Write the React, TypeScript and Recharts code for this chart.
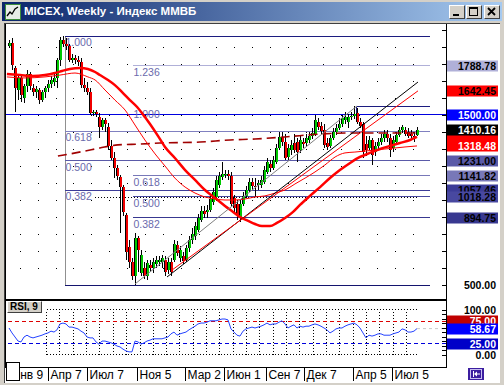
import React from "react";
import { ComposedChart, Bar, Line, Scatter, XAxis, YAxis, ReferenceLine } from "recharts";

// ---------------- data ----------------
const opens = [
  1906, 1924, 1777, 1647, 1718, 1600, 1671, 1741, 1659, 1635,
  1647, 1588, 1635, 1659, 1682, 1694, 1718, 1824, 1941, 1918,
  1906, 1824, 1835, 1824, 1812, 1676, 1659, 1635, 1512, 1518,
  1490, 1429, 1471, 1430, 1318, 1247, 1188, 1135, 1076, 912,
  724, 635, 553, 777, 571, 600, 553, 618, 600, 624,
  635, 635, 647, 588, 635, 647, 735, 659, 671, 647,
  718, 765, 788, 824, 882, 935, 930, 941, 988, 1018,
  1088, 1135, 1147, 1153, 1141, 1012, 977, 894, 977, 1024,
  1059, 1106, 1082, 1088, 1088, 1106, 1165, 1212, 1188, 1224,
  1306, 1371, 1341, 1253, 1294, 1335, 1341, 1294, 1341, 1335,
  1353, 1376, 1388, 1459, 1435, 1412, 1335, 1318, 1365, 1400,
  1424, 1447, 1471, 1460, 1488, 1494, 1512, 1459, 1447, 1330,
  1306, 1353, 1282, 1318, 1341, 1365, 1388, 1365, 1306, 1341,
  1382, 1412, 1412, 1400, 1388, 1376, 1382,
];
const highs = [
  1941, 1953, 1788, 1741, 1735, 1682, 1765, 1753, 1682, 1671,
  1659, 1647, 1671, 1706, 1729, 1741, 1835, 1959, 1965, 1953,
  1918, 1859, 1853, 1847, 1835, 1718, 1694, 1659, 1529, 1529,
  1510, 1482, 1482, 1450, 1353, 1282, 1206, 1147, 1088, 924,
  765, 659, 806, 788, 706, 635, 647, 647, 659, 671,
  671, 677, 671, 659, 659, 765, 759, 730, 694, 735,
  788, 835, 871, 918, 965, 965, 971, 1030, 1071, 1141,
  1165, 1224, 1176, 1176, 1165, 1030, 1000, 1000, 1047, 1082,
  1129, 1129, 1129, 1118, 1141, 1200, 1247, 1235, 1259, 1329,
  1400, 1400, 1388, 1329, 1353, 1388, 1365, 1376, 1365, 1388,
  1400, 1424, 1500, 1482, 1459, 1447, 1365, 1382, 1424, 1447,
  1482, 1500, 1518, 1506, 1518, 1553, 1541, 1482, 1459, 1376,
  1376, 1365, 1341, 1365, 1388, 1412, 1412, 1388, 1376, 1400,
  1429, 1441, 1429, 1424, 1412, 1400, 1429,
];
const lows = [
  1894, 1765, 1518, 1588, 1577, 1571, 1635, 1647, 1612, 1600,
  1565, 1577, 1600, 1635, 1659, 1671, 1659, 1788, 1900, 1882,
  1812, 1806, 1800, 1788, 1659, 1635, 1618, 1500, 1494, 1488,
  1365, 1412, 1400, 1294, 1235, 1129, 1118, 806, 906, 647,
  600, 529, 500, 577, 553, 535, 529, 577, 571, 600,
  612, 600, 553, 565, 553, 635, 671, 635, 624, 635,
  694, 741, 765, 812, 871, 894, 894, 930, 971, 1006,
  1071, 1118, 1129, 1118, 965, 930, 882, 871, 965, 1012,
  1047, 1059, 1018, 1059, 1071, 1094, 1153, 1165, 1176, 1212,
  1294, 1318, 1235, 1235, 1265, 1277, 1224, 1277, 1306, 1318,
  1335, 1359, 1376, 1412, 1388, 1306, 1294, 1306, 1353, 1382,
  1412, 1429, 1447, 1424, 1471, 1477, 1447, 1424, 1247, 1259,
  1294, 1206, 1259, 1294, 1324, 1341, 1341, 1253, 1282, 1324,
  1371, 1394, 1376, 1365, 1359, 1341, 1376,
];
const closes = [
  1924, 1794, 1659, 1718, 1618, 1671, 1741, 1671, 1635, 1653,
  1588, 1635, 1659, 1682, 1706, 1718, 1824, 1941, 1918, 1906,
  1824, 1835, 1824, 1812, 1676, 1659, 1635, 1512, 1518, 1506,
  1429, 1471, 1447, 1318, 1247, 1188, 1141, 1076, 930, 694,
  635, 553, 777, 706, 677, 553, 630, 600, 635, 647,
  647, 659, 577, 635, 577, 741, 688, 706, 641, 718,
  765, 800, 847, 894, 935, 918, 941, 1006, 1047, 1118,
  1141, 1153, 1153, 1141, 977, 953, 912, 977, 1024, 1059,
  1106, 1082, 1076, 1100, 1118, 1176, 1224, 1188, 1235, 1306,
  1371, 1341, 1247, 1306, 1324, 1294, 1282, 1353, 1329, 1365,
  1376, 1394, 1471, 1429, 1406, 1324, 1312, 1365, 1400, 1424,
  1447, 1482, 1488, 1488, 1494, 1506, 1459, 1435, 1282, 1294,
  1353, 1265, 1318, 1341, 1365, 1388, 1365, 1294, 1353, 1382,
  1412, 1429, 1388, 1376, 1376, 1371, 1410.16,
];
const rsiValues = [
  60, 49, 40, 31, 29, 40, 44, 40, 38, 40,
  42, 44, 47, 49, 53, 51, 56, 69, 71, 69,
  62, 62, 60, 58, 53, 49, 40, 38, 38, 29,
  24, 31, 31, 29, 27, 24, 20, 18, 13, 9,
  7, 7, 31, 29, 24, 27, 31, 33, 36, 36,
  36, 36, 38, 40, 47, 51, 44, 47, 49, 51,
  56, 60, 64, 69, 71, 71, 73, 76, 76, 76,
  78, 80, 80, 78, 58, 51, 44, 42, 53, 58,
  60, 62, 60, 62, 64, 67, 71, 67, 69, 69,
  73, 76, 69, 60, 64, 67, 60, 64, 62, 64,
  64, 67, 69, 67, 64, 60, 56, 49, 53, 58,
  60, 60, 64, 67, 69, 71, 67, 60, 49, 38,
  44, 42, 44, 47, 47, 44, 44, 44, 47, 49,
  51, 58, 56, 51, 51, 53, 58.67,
];

// moving averages (bar index, value)
const thickMaIdx = [-0.7, 3.7, 8, 12, 15.3, 17.7, 20.3, 23.7, 26.3, 28.7, 30.3, 33, 35.3, 37.7, 40.3, 42.7, 44.3, 47, 49.7, 52, 55.3, 58.7, 62, 65.3, 68.7, 72, 74.7, 77, 79.7, 82, 84.3, 87, 89.3, 92, 94.7, 97, 100.3, 103.7, 107, 110.3, 113.7, 117, 120.3, 123.7, 127, 130.3, 133.7, 136];
const thickMaVal = [1741, 1735, 1729, 1735, 1747, 1759, 1771, 1777, 1771, 1753, 1735, 1706, 1676, 1635, 1588, 1547, 1512, 1447, 1376, 1312, 1247, 1176, 1118, 1059, 1012, 965, 930, 900, 877, 859, 847, 847, 865, 894, 930, 971, 1024, 1076, 1129, 1176, 1218, 1253, 1277, 1300, 1318, 1335, 1353, 1371];
const thinMaIdx = [-0.7, 5.3, 12, 17, 22, 26.3, 28.7, 32, 35.3, 38.7, 42, 45.3, 48.7, 52, 55.3, 58.7, 62, 65.3, 68.7, 72, 75.3, 78.7, 82, 85.3, 88.7, 92, 95.3, 98.7, 102, 105.3, 108.7, 112, 115.3, 118.7, 122, 125.3, 128.7, 132, 136];
const thinMaVal = [1724, 1718, 1724, 1735, 1747, 1724, 1706, 1647, 1588, 1529, 1441, 1353, 1271, 1200, 1129, 1076, 1041, 1018, 1006, 1000, 1000, 1006, 1018, 1024, 1041, 1059, 1094, 1129, 1165, 1206, 1253, 1277, 1282, 1288, 1294, 1300, 1306, 1312, 1318];
const longMaIdx = [16.3, 20.3, 25.3, 30.3, 36.3, 43.7, 50.3, 63.7, 73.7, 82, 92, 103.7, 113.7, 125.3, 136];
const longMaVal = [1259, 1271, 1288, 1306, 1324, 1329, 1335, 1341, 1353, 1359, 1371, 1388, 1394, 1394, 1394];

// Fibonacci objects
const fib1Range = [18.67, 140.33];
const fib1Levels = [1962, 1403.5, 1231, 1057.5, 500];
const fib1Names = ["1.000", "0.618", "0.500", "0.382", ""];
const fib1Colors = ["#1c1c80", "#8080c0", "#5a5aa8", "#3c3c98", "#14146e"];
const fib2Range = [41.33, 140.33];
const fib2Levels = [1788.78, 1541.7, 1141.82, 1018.28, 894.75, 494.8];
const fib2Names = ["1.236", "1.000", "0.618", "0.500", "0.382", ""];
const fib2Colors = ["#b0b0d8", "", "#7878b8", "#4848a0", "#383890", "#14146e"];

// trend lines [index, price]
const trendStart = [[42, 506], [52.67, 547], [54.33, 588]];
const trendEnd = [[116, 1553], [136.33, 1694], [136.33, 1642]];
const trendColors = ["#808080", "#000000", "#ff0000"];
const boxLevel = 1548;
const boxRange = [116, 140.33];
const dottedLevel = 1012;
const dottedRange = [28.7, 136.3];
const blueLevel = 1500;

// grid / ticks
const priceTicks = [500, 600, 700, 800, 900, 1000, 1100, 1200, 1300, 1400, 1500, 1600, 1700, 1800, 1900, 2000];
const gridPrices = [600, 700, 800, 900, 1000, 1100, 1200, 1300, 1400, 1500, 1600, 1700, 1800, 1900];
const gridIdx = [3.7, 9.6, 15.6, 21.5, 27.5, 33.4, 39.4, 45.3, 51.3, 57.2, 63.2, 69.1, 75.1, 81.0, 87.0, 92.9, 98.9, 104.8, 110.8, 116.7, 122.7, 128.6, 134.6];
// axis boxes; an empty text means the box is almost entirely hidden in the picture
const priceLabelValues = [1788.78, 1642.45, 1500, 1362.38, 1410.16, 1318.48, 1231, 1141.82, 1057.46, 1012.05, 1018.28, 894.75, 500];
const priceLabelShow = [true, true, true, false, true, true, true, true, true, false, true, true, true];
const priceLabelBg = ["#b0b0d8", "#ff0000", "#0000ff", "#ff0000", "#000000", "#ff0000", "#5a5aa8", "#7878b8", "#3c3c98", "#ffffff", "#4848a0", "#383890", "none"];
const priceLabelFg = ["#000", "#000", "#fff", "#fff", "#fff", "#fff", "#000", "#000", "#000", "#000", "#000", "#000", "#000"];

const rsiTicks = [0, 10, 20, 30, 40, 50, 60, 70, 80, 90, 100];
const rsiGridIdx = [12.6, 17.0, 21.4, 25.9, 30.3, 34.8, 39.2, 43.7, 48.1, 52.5, 57.0, 61.4, 65.9, 70.3, 74.8, 79.2, 83.6, 88.1, 92.5, 97.0, 101.4, 105.9, 110.3, 114.7, 119.2, 123.6, 128.1, 132.5];
const rsiGridRange = [12.6, 136];
const rsiLabelValues = [100, 75, 58.67, 25, 0];
const rsiLabelShow = [true, true, true, true, true];
const rsiLabelBg = ["none", "#c00000", "#0000ff", "#0000c8", "none"];
const rsiLabelFg = ["#000", "#fff", "#fff", "#fff", "#000"];

const timeLabels = ["Янв 9", "Апр 7", "Июл 7", "Ноя 5", "Мар 2", "Июн 1", "Сен 7", "Дек 7", "Апр 5", "Июл 5"];
const timeTickIdx = [-0.1, 12.9, 25.9, 42.7, 58.7, 71.7, 85.7, 98.3, 114.7, 127.7];

// ---------------- styling ----------------
const X_DOMAIN: [number, number] = [-1, 145.667];
const Y_DOMAIN: [number, number] = [417.65, 2035.29];
const RSI_DOMAIN: [number, number] = [-26.67, 120];
const GREEN = "#00c800";
const RED = "#f00000";
const FONT = "'Liberation Sans', Arial, sans-serif";

const Candle = (props: any) => {
  const { x, y, width, height, payload } = props;
  if (!payload || height == null || isNaN(y)) return <g />;
  const { o, h, l, c } = payload;
  const cx = Math.round(x + width / 2);
  const k = h - l > 0 ? height / (h - l) : 0;
  const yO = y + (h - o) * k;
  const yC = y + (h - c) * k;
  const top = Math.round(Math.min(yO, yC));
  const bot = Math.round(Math.max(yO, yC));
  const yH = Math.round(y);
  const yL = Math.round(y + height);
  const up = c >= o;
  return (
    <g shapeRendering="crispEdges">
      <line x1={cx + 0.5} x2={cx + 0.5} y1={yH} y2={yL} stroke="#000" strokeWidth={1} />
      {bot - top >= 1 ? (
        <g>
          <rect x={cx - 1} y={top} width={3} height={bot - top} fill={up ? GREEN : RED} />
          <rect x={cx - 1} y={top} width={1} height={bot - top} fill="#000" />
        </g>
      ) : (
        <rect x={cx - 1} y={top} width={3} height={1} fill="#000" />
      )}
    </g>
  );
};

const Dot = (p: any) => <rect x={Math.round(p.cx)} y={Math.round(p.cy)} width={1} height={1} fill="#000" />;

const FibLabel = (p: any) => (
  <text x={p.cx + 0.5} y={p.cy + 10} fontSize={10.5} fontFamily={FONT} fill="#6a6aac">
    {p.payload.t}
  </text>
);

const TickMark = (p: any) => {
  const yy = Math.round(p.y) + 0.5;
  return <line x1={p.x - 4} x2={p.x} y1={yy} y2={yy} stroke="#000" strokeWidth={1} />;
};

const makeBox = (values: number[], show: boolean[], bgs: string[], fgs: string[]) => (p: any) => {
  const k = values.indexOf(p.payload.value);
  const bg = bgs[k];
  const fg = fgs[k];
  const yy = Math.round(p.y);
  return (
    <g>
      {bg !== "none" && <rect x={p.x} y={yy - 5.5} width={51} height={11} fill={bg} />}
      {show[k] && (
        <text x={p.x + 49} y={yy + 4} textAnchor="end" fontSize={10.5} fontWeight="bold" fontFamily={FONT} fill={fg}>
          {values[k].toFixed(2)}
        </text>
      )}
    </g>
  );
};
const PriceBox = makeBox(priceLabelValues, priceLabelShow, priceLabelBg, priceLabelFg);
const RsiBox = makeBox(rsiLabelValues, rsiLabelShow, rsiLabelBg, rsiLabelFg);

const TimeTick = (p: any) => {
  const k = timeTickIdx.indexOf(p.payload.value);
  const px = Math.round(p.x) + 0.5;
  return (
    <g>
      <line x1={px} x2={px} y1={p.y + 1} y2={p.y + 14} stroke="#000" strokeWidth={1} />
      <text x={px + 2} y={p.y + 11.5} fontSize={12} fontFamily={FONT} fill="#000">
        {timeLabels[k]}
      </text>
    </g>
  );
};

const abs = (l: number, t: number, w: number, h: number, extra: any = {}) => ({
  position: "absolute" as const, left: l, top: t, width: w, height: h, boxSizing: "border-box" as const, ...extra,
});

const WinButton = ({ left, children }: any) => (
  <div style={abs(left, 5, 16, 14, { background: "#d4d0c8", borderTop: "1px solid #fff", borderLeft: "1px solid #fff", borderRight: "1px solid #404040", borderBottom: "1px solid #404040" })}>
    <svg width={14} height={12} style={{ position: "absolute", left: 0, top: 0 }}>{children}</svg>
  </div>
);

export default function App() {
  const candles = opens.map((o, k) => ({ i: k, o, h: highs[k], l: lows[k], c: closes[k] }));
  const rsiData = rsiValues.map((r, k) => ({ i: k, r }));
  const thick = thickMaIdx.map((i, k) => ({ i, p: thickMaVal[k] }));
  const thin = thinMaIdx.map((i, k) => ({ i, p: thinMaVal[k] }));
  const longMa = longMaIdx.map((i, k) => ({ i, p: longMaVal[k] }));
  const gridDots = gridIdx.flatMap((i) => gridPrices.map((p) => ({ i, p })));
  const fibLabels = [
    ...fib1Levels.map((p, k) => ({ i: fib1Range[0], p, t: fib1Names[k] })),
    ...fib2Levels.map((p, k) => ({ i: fib2Range[0], p, t: fib2Names[k] })),
  ].filter((d) => d.t);

  return (
    <div style={abs(0, 0, 504, 385, { background: "#d4d0c8", overflow: "hidden", fontFamily: FONT })}>
      {/* title bar */}
      <div style={abs(2, 2, 500, 19, { background: "linear-gradient(to right, #0a246a, #a6caf0)" })} />
      <svg width={16} height={16} style={{ position: "absolute", left: 5, top: 4 }}>
        <rect x={0.5} y={0.5} width={15} height={15} fill="#e8ece8" stroke="#3c8c3c" />
        <polyline points="2,12 5,8 7,10 10,5 13,3" fill="none" stroke="#000" strokeWidth={1.3} />
      </svg>
      <div style={abs(24, 4, 300, 15, { color: "#fff", fontWeight: "bold", fontSize: 11.5, lineHeight: "15px", whiteSpace: "nowrap" })}>
        MICEX, Weekly - Индекс ММВБ
      </div>
      <WinButton left={449}>
        <rect x={3} y={8} width={6} height={2} fill="#000" />
      </WinButton>
      <WinButton left={466}>
        <rect x={2.5} y={1.5} width={8} height={8} fill="none" stroke="#000" />
        <rect x={2} y={1} width={9} height={2} fill="#000" />
      </WinButton>
      <WinButton left={484}>
        <path d="M3,2 L10,9 M10,2 L3,9" stroke="#000" strokeWidth={1.8} />
      </WinButton>

      {/* client area */}
      <div style={abs(4, 23, 496, 360, { background: "#fff", borderTop: "1px solid #404040", borderLeft: "1px solid #404040" })} />

      {/* main price chart */}
      <div style={{ position: "absolute", left: 0, top: 0 }}>
        <ComposedChart width={504} height={385} data={candles} margin={{ top: 24, right: 56, bottom: 86, left: 6 }}>
          <XAxis dataKey="i" type="number" domain={X_DOMAIN} allowDataOverflow hide />
          <YAxis type="number" domain={Y_DOMAIN} allowDataOverflow orientation="right" width={1} ticks={priceTicks} interval={0} tickLine={false} axisLine={false} tickSize={0} tickMargin={0} tick={TickMark} />
          <YAxis yAxisId="lab" type="number" domain={Y_DOMAIN} allowDataOverflow orientation="right" width={1} ticks={priceLabelValues} interval={0} tickLine={false} axisLine={false} tickSize={0} tickMargin={0} tick={PriceBox} />

          <Scatter data={gridDots} dataKey="p" shape={Dot} isAnimationActive={false} zIndex={100} />

          <ReferenceLine segment={[{ x: fib1Range[0], y: fib1Levels[0] }, { x: fib1Range[0], y: fib1Levels[4] }]} stroke="#909090" strokeWidth={1} shapeRendering="crispEdges" zIndex={150} />
          {fib1Levels.map((p, k) => (
            <ReferenceLine key={"f1" + k} segment={[{ x: fib1Range[0], y: p }, { x: fib1Range[1], y: p }]} stroke={fib1Colors[k]} strokeWidth={1} shapeRendering="crispEdges" zIndex={150} />
          ))}
          {fib2Levels.map((p, k) =>
            fib2Colors[k] ? (
              <ReferenceLine key={"f2" + k} segment={[{ x: fib2Range[0], y: p }, { x: fib2Range[1], y: p }]} stroke={fib2Colors[k]} strokeWidth={1} shapeRendering="crispEdges" zIndex={150} />
            ) : null
          )}
          <ReferenceLine y={blueLevel} stroke="#0000e0" strokeWidth={1} shapeRendering="crispEdges" zIndex={160} />
          <ReferenceLine segment={[{ x: boxRange[0], y: boxLevel }, { x: boxRange[1], y: boxLevel }]} stroke="#1c1c80" strokeWidth={1} shapeRendering="crispEdges" zIndex={160} />
          <ReferenceLine segment={[{ x: boxRange[0], y: boxLevel }, { x: boxRange[0], y: blueLevel }]} stroke="#1c1c80" strokeWidth={1} shapeRendering="crispEdges" zIndex={160} />
          <ReferenceLine segment={[{ x: dottedRange[0], y: dottedLevel }, { x: dottedRange[1], y: dottedLevel }]} stroke="#000" strokeWidth={1} strokeDasharray="1 2" shapeRendering="crispEdges" zIndex={160} />

          <Scatter data={fibLabels} dataKey="p" shape={FibLabel} isAnimationActive={false} zIndex={200} />

          <Bar dataKey={(d: any) => [d.l, d.h]} barSize={3} shape={Candle} isAnimationActive={false} zIndex={300} />

          <Line data={longMa} dataKey="p" type="monotone" stroke="#a00000" strokeWidth={1.6} strokeDasharray="9 5" dot={false} activeDot={false} isAnimationActive={false} zIndex={400} />
          <Line data={thin} dataKey="p" type="monotone" stroke="#ff0000" strokeWidth={1} dot={false} activeDot={false} isAnimationActive={false} zIndex={400} />
          <Line data={thick} dataKey="p" type="monotone" stroke="#ff0000" strokeWidth={2.5} dot={false} activeDot={false} isAnimationActive={false} zIndex={400} />

          {trendStart.map((s, k) => (
            <ReferenceLine key={"t" + k} segment={[{ x: s[0], y: s[1] }, { x: trendEnd[k][0], y: trendEnd[k][1] }]} stroke={trendColors[k]} strokeWidth={1} zIndex={450} />
          ))}
        </ComposedChart>
      </div>

      {/* RSI panel */}
      <div style={{ position: "absolute", left: 0, top: 0 }}>
        <ComposedChart width={504} height={385} data={rsiData} margin={{ top: 301, right: 56, bottom: 0, left: 6 }}>
          <XAxis dataKey="i" type="number" domain={X_DOMAIN} allowDataOverflow height={18} ticks={timeTickIdx} interval={0} tickLine={false} axisLine={false} tickSize={0} tickMargin={0} tick={TimeTick} />
          <YAxis type="number" domain={RSI_DOMAIN} allowDataOverflow orientation="right" width={1} ticks={rsiTicks} interval={0} tickLine={false} axisLine={false} tickSize={0} tickMargin={0} tick={TickMark} />
          <YAxis yAxisId="lab" type="number" domain={RSI_DOMAIN} allowDataOverflow orientation="right" width={1} ticks={rsiLabelValues} interval={0} tickLine={false} axisLine={false} tickSize={0} tickMargin={0} tick={RsiBox} />
          {rsiGridIdx.map((v, k) => (
            <ReferenceLine key={"rg" + k} segment={[{ x: v, y: 0 }, { x: v, y: 100 }]} stroke="#000" strokeWidth={1} strokeDasharray="1 2" shapeRendering="crispEdges" zIndex={100} />
          ))}
          <ReferenceLine segment={[{ x: rsiGridRange[0], y: 100 }, { x: rsiGridRange[1], y: 100 }]} stroke="#000" strokeWidth={1} strokeDasharray="1 2" shapeRendering="crispEdges" zIndex={100} />
          <ReferenceLine segment={[{ x: rsiGridRange[0], y: 0 }, { x: rsiGridRange[1], y: 0 }]} stroke="#000" strokeWidth={1} strokeDasharray="1 2" shapeRendering="crispEdges" zIndex={100} />
          <ReferenceLine y={75} stroke="#dd0000" strokeWidth={1} strokeDasharray="4 3" shapeRendering="crispEdges" zIndex={150} />
          <ReferenceLine y={25} stroke="#0000dd" strokeWidth={1} strokeDasharray="4 3" shapeRendering="crispEdges" zIndex={150} />
          <ReferenceLine segment={[{ x: 136, y: rsiValues[rsiValues.length - 1] }, { x: X_DOMAIN[1], y: rsiValues[rsiValues.length - 1] }]} stroke="#c8c8c8" strokeWidth={1} strokeDasharray="3 3" zIndex={150} />
          <Line dataKey="r" type="linear" stroke="#2442ff" strokeWidth={1} dot={false} activeDot={false} isAnimationActive={false} zIndex={400} />
        </ComposedChart>
      </div>

      {/* frame lines */}
      <div style={abs(5, 24, 1, 344, { background: "#000" })} />
      <div style={abs(446, 24, 1, 344, { background: "#000" })} />
      <div style={abs(5, 299, 442, 2, { background: "#000" })} />
      <div style={abs(5, 367, 442, 1, { background: "#000" })} />

      {/* RSI caption */}
      <div style={abs(7, 301, 35, 12, { background: "#d4d0c8", borderTop: "1px solid #fff", borderLeft: "1px solid #fff", borderRight: "1px solid #404040", borderBottom: "1px solid #404040", fontSize: 10, fontWeight: "bold", lineHeight: "10px", paddingLeft: 2, color: "#000", whiteSpace: "nowrap" })}>
        RSI, 9
      </div>

      {/* bottom-left box */}
      <div style={abs(6, 362, 14, 19, { background: "#fff", border: "1px solid #000" })} />

      {/* scroll-to-end button */}
      <div style={abs(468, 368, 16, 12, { background: "#3c1ea0" })}>
        <svg width={16} height={12} style={{ position: "absolute", left: 0, top: 0 }}>
          <rect x={2.5} y={1.5} width={11} height={9} fill="none" stroke="#c8c0f0" />
          <line x1={5.5} x2={5.5} y1={3} y2={9} stroke="#fff" />
          <path d="M6,6 L9,3.5 L9,8.5 Z" fill="#fff" />
          <line x1={8} x2={12} y1={6} y2={6} stroke="#fff" />
        </svg>
      </div>
    </div>
  );
}
